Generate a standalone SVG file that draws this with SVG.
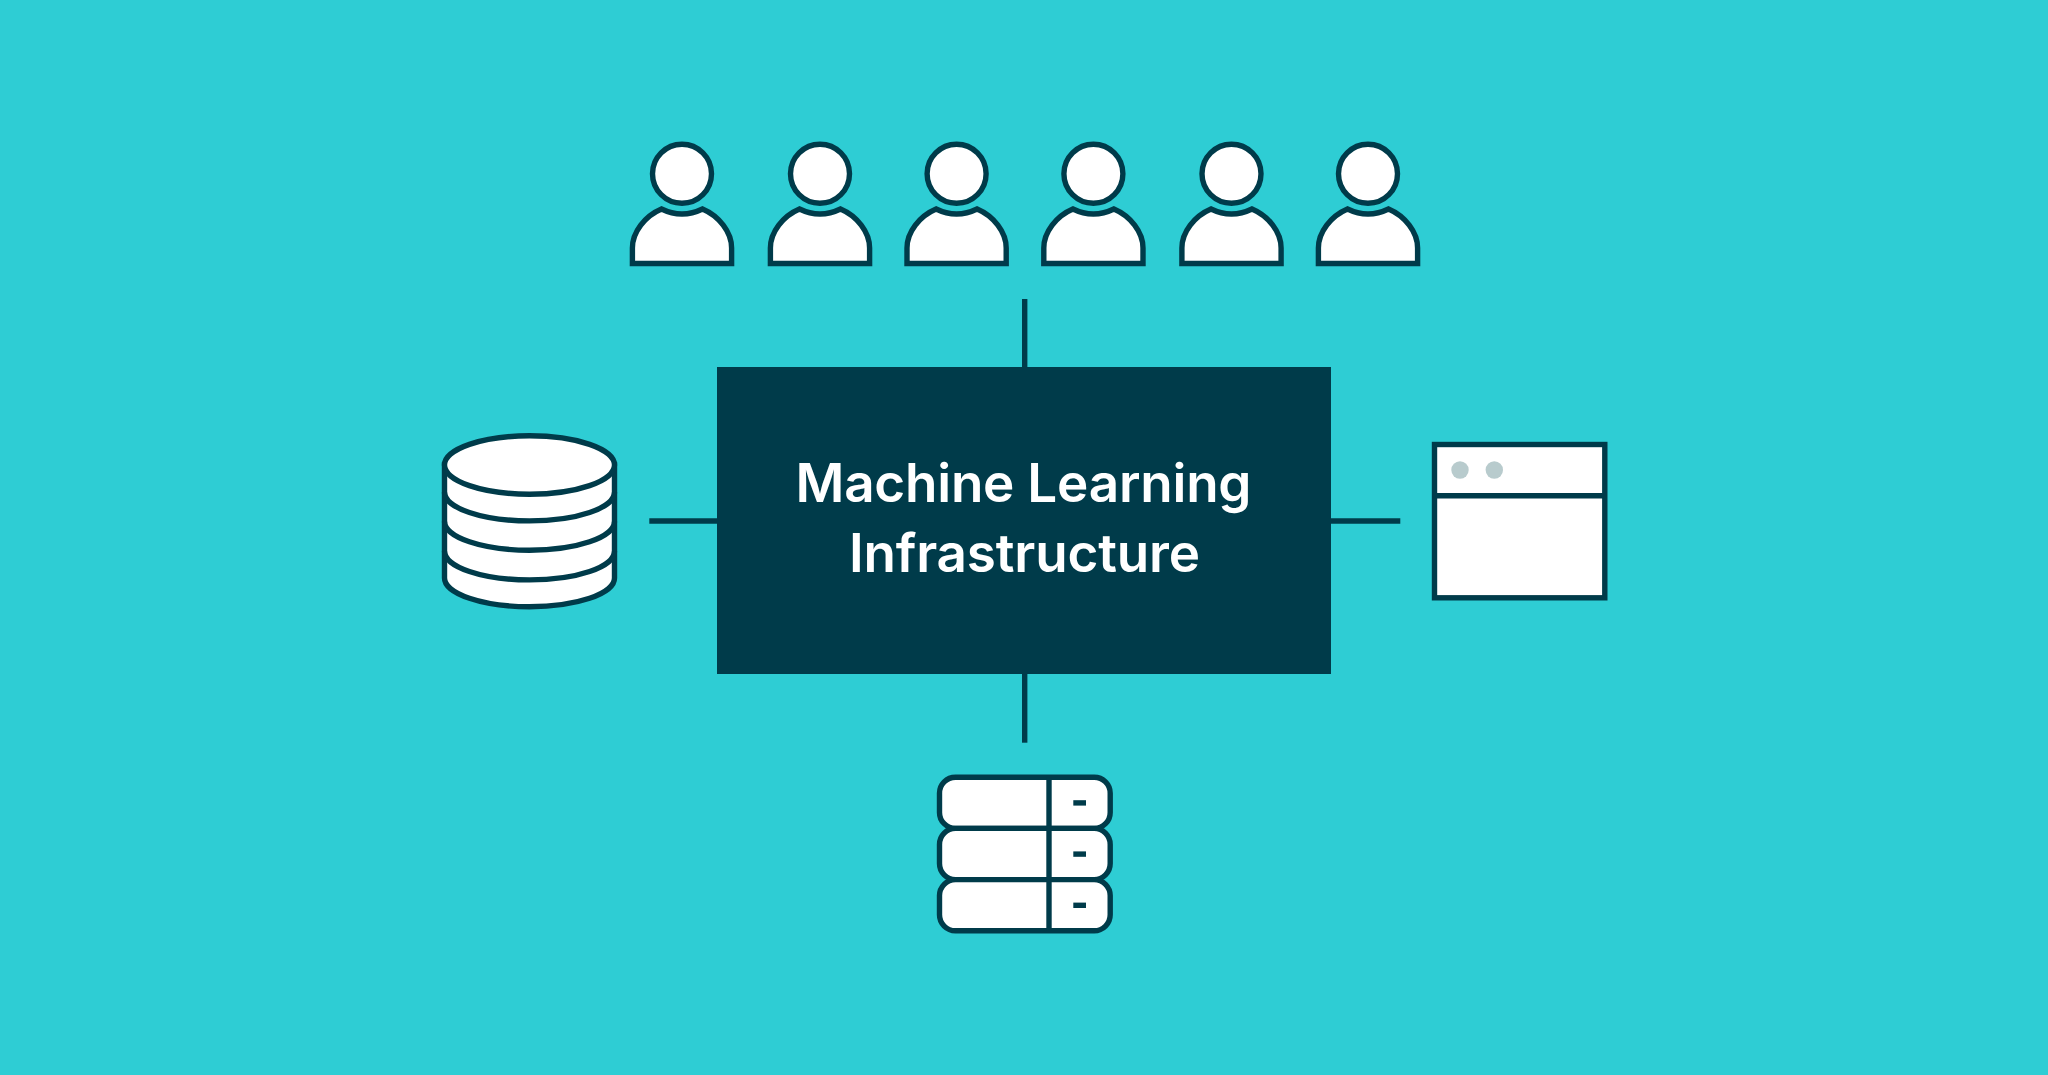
<svg xmlns="http://www.w3.org/2000/svg" width="2048" height="1075" viewBox="0 0 2048 1075">
<style>
.s{fill:#fff;stroke:#003b4a;stroke-width:5.4;stroke-linejoin:miter}
.n{fill:none;stroke:#003b4a;stroke-width:5.4}
.c{fill:none;stroke:#003b4a;stroke-width:5.4}
.t{font-family:"Inter","Liberation Sans",sans-serif;font-weight:600;font-size:53px;fill:#fff;text-anchor:middle}
.d{fill:#b8cbcd}
</style>
<defs>
<g id="person">
<circle class="s" cx="0" cy="173.7" r="29.5"/>
<path class="s" d="M-49.6 263.5V248C-49.6 232-37 216-20.5 209Q0 219 20.5 209C37 216 49.6 232 49.6 248V263.5Z"/>
</g>
<g id="unit">
<rect class="s" x="939.5" y="0" width="170.7" height="51.2" rx="16"/>
<path class="n" d="M1049 0V51.2"/>
<rect x="1073.3" y="23" width="12.7" height="5.4" fill="#003b4a"/>
</g>
</defs>
<rect width="2048" height="1075" fill="#2ecdd4"/>
<g id="connectors">
<path class="c" d="M1024.7 299V367"/>
<path class="c" d="M1024.7 674V742.7"/>
<path class="c" d="M649.3 521H717"/>
<path class="c" d="M1331 521H1400.3"/>
</g>
<g id="person-1"><use href="#person" x="682"/></g>
<g id="person-2"><use href="#person" x="820"/></g>
<g id="person-3"><use href="#person" x="956.6"/></g>
<g id="person-4"><use href="#person" x="1093.4"/></g>
<g id="person-5"><use href="#person" x="1231.5"/></g>
<g id="person-6"><use href="#person" x="1368"/></g>
<g id="center">
<rect x="717" y="367" width="614" height="307" fill="#003b4a"/>
<text class="t" x="1023.5" y="501.7" textLength="456" lengthAdjust="spacing">Machine Learning</text>
<text class="t" x="1024.5" y="572" textLength="351" lengthAdjust="spacing">Infrastructure</text>
</g>
<g id="database">
<path class="s" d="M444.5 465V578A85 28.7 0 0 0 614.5 578V465Z"/>
<path class="n" d="M444.5 551.2A85 28.7 0 0 0 614.5 551.2"/>
<path class="n" d="M444.5 521.5A85 28.7 0 0 0 614.5 521.5"/>
<path class="n" d="M444.5 492.2A85 28.7 0 0 0 614.5 492.2"/>
<ellipse class="s" cx="529.5" cy="465" rx="85" ry="29.2"/>
</g>
<g id="window">
<rect class="s" x="1434.5" y="444.5" width="170.3" height="153.3"/>
<path class="n" d="M1434.5 495.7H1604.8"/>
<circle class="d" cx="1460" cy="470" r="8.7"/>
<circle class="d" cx="1494.3" cy="470" r="8.7"/>
</g>
<g id="server">
<use href="#unit" y="777.2"/>
<use href="#unit" y="828.4"/>
<use href="#unit" y="879.6"/>
</g>
</svg>
